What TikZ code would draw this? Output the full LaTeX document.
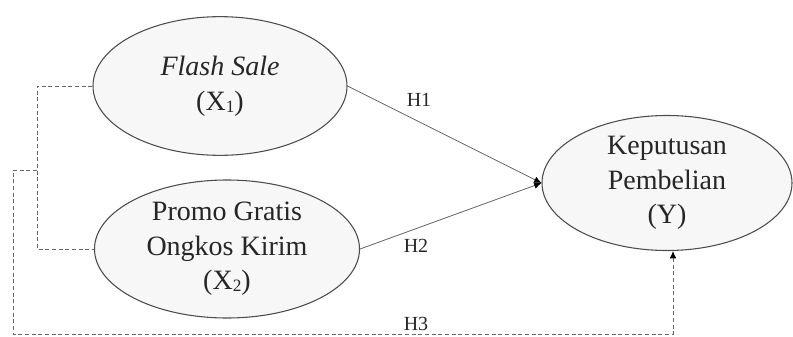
\documentclass[tikz,border=0pt]{standalone}
\usepackage{fontspec}
\setmainfont{Liberation Serif}
\usetikzlibrary{shapes.geometric,arrows.meta}

\newcommand{\subidx}[1]{{\fontsize{13}{13}\selectfont\raisebox{-0.25ex}{#1}}}

\tikzset{
	varnode/.style={ellipse, draw=black!70, line width=0.8pt, fill=black!3, inner sep=0pt, align=center, text=black!85, font=\fontsize{21}{26}\selectfont},
	hyplabel/.style={inner sep=0pt, text=black!85, font=\fontsize{15}{18}\selectfont},
	pathline/.style={draw=black!60, line width=0.6pt},
	dashline/.style={draw=black!60, line width=0.6pt, dash pattern=on 3pt off 2pt},
	tip/.style={-{Latex[length=5.5pt,width=5pt,black]}}
}

\begin{document}
\begin{tikzpicture}[x=0.75pt,y=0.75pt,yscale=-1,xscale=1]
		%set diagram frame as the reference
		\useasboundingbox (0,0) rectangle (793,336);
		
		% Variables
		\node [varnode, minimum width=190.5pt, minimum height=104pt] (x1) at (220,86) {\textit{Flash Sale}\\(X\subidx{1})};
		\node [varnode, minimum width=198.75pt, minimum height=103.5pt] (x2) at (227,249) {Promo Gratis\\Ongkos Kirim\\(X\subidx{2})};
		\node [varnode, minimum width=187.5pt, minimum height=101.25pt] (y) at (667,183) {Keputusan\\Pembelian\\(Y)};
		
		% Joints of the dashed path
		\coordinate (jl) at (37,170);
		\coordinate (jo) at (13,334);
		
		% Partial paths
		\draw [pathline, tip] (x1.east) -- (y.west);
		\draw [pathline, tip] (x2.east) -- (y.west);
		
		% Simultaneous path
		\draw [dashline] (x1.west) -| (jl) |- (x2.west);
		\draw [dashline, tip] (jl) -| (jo) -| ([xshift=4.5pt]y.south);
		
		% Labels
		\node [hyplabel] (h1) at (419,100) {H1};
		\node [hyplabel] (h2) at (416,246) {H2};
		\node [hyplabel] (h3) at (416,324) {H3};
		
\end{tikzpicture}
\end{document}
